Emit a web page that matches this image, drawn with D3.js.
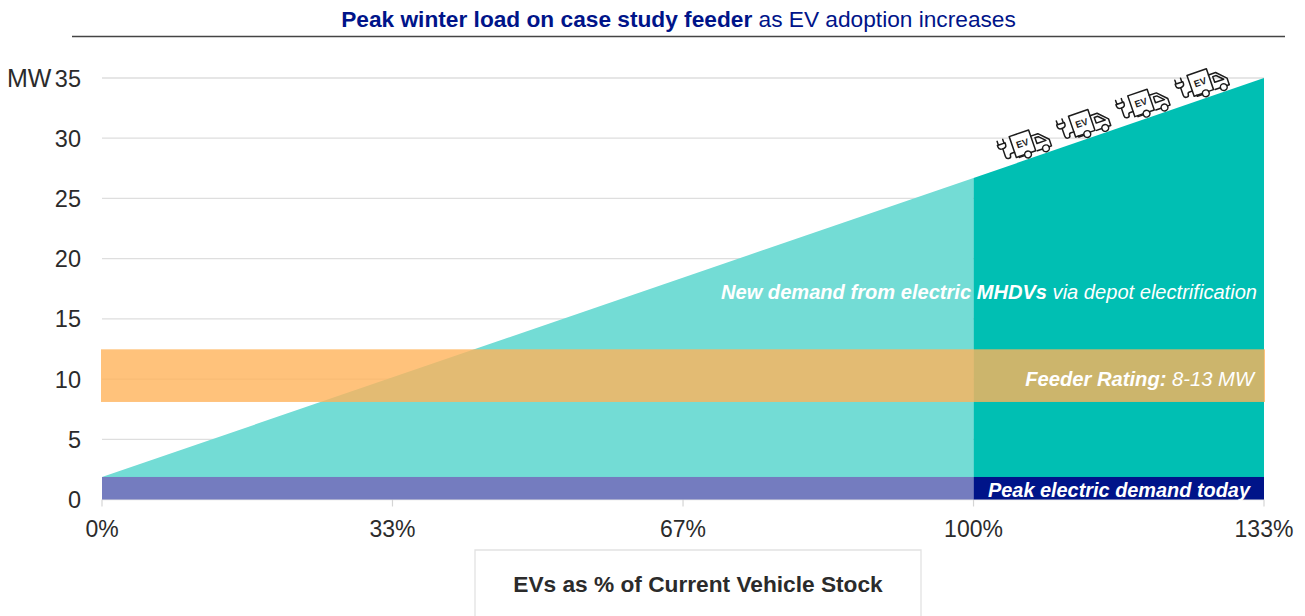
<!DOCTYPE html>
<html>
<head>
<meta charset="utf-8">
<script src="https://cdn.jsdelivr.net/npm/d3@7"></script>
<style>
html,body{margin:0;padding:0;background:#fff;overflow:hidden}
text{font-family:"Liberation Sans",Arial,sans-serif}
</style>
</head>
<body>
<svg id="c" width="1305" height="616"></svg>
<script>
const yTicks = [0,5,10,15,20,25,30,35];
const xTicks = [0,33.33,66.67,100,133.33];
const xTickLabels = ["0%","33%","67%","100%","133%"];
const demandX = [0,100,133.33];
const demandY = [1.87,26.7,35];
const peakToday = 1.87;
const feederLow = 8.1;
const feederHigh = 12.47;
const truckX = [106.3,113.1,119.9,126.7];
const truckLift = [1.05,1.05,1.05,1.05];

const svg = d3.select("#c");
const x = d3.scaleLinear().domain([0,133.33]).range([102,1264]);
const y = d3.scaleLinear().domain([0,35]).range([499.5,78]);
const TEAL="#00BFB3", TEAL_LIGHT="#73DCD5", NAVY="#001489", NAVY_LIGHT="#747CBF", ORANGE="#FFB35A";
const INK="#2b2b2b";

// title
const title = svg.append("text").attr("x",678.5).attr("y",27).attr("text-anchor","middle")
  .attr("font-size",22.7).attr("fill",NAVY);
title.append("tspan").attr("font-weight",700).text("Peak winter load on case study feeder");
title.append("tspan").text(" as EV adoption increases");
svg.append("line").attr("x1",72).attr("x2",1285).attr("y1",36.5).attr("y2",36.5)
  .attr("stroke","#444").attr("stroke-width",1.6);

// grid
svg.append("g").selectAll("line").data(yTicks).join("line")
  .attr("x1",x(0)).attr("x2",x(133.33)).attr("y1",d=>y(d)).attr("y2",d=>y(d))
  .attr("stroke","#dedede").attr("stroke-width",1.3);

// y labels
svg.append("g").selectAll("text").data(yTicks).join("text")
  .attr("x",81).attr("y",d=>y(d)+8.5).attr("text-anchor","end")
  .attr("font-size",23.5).attr("fill",INK).text(d=>d);
svg.append("text").attr("x",7).attr("y",87).attr("font-size",25).attr("fill",INK).text("MW");

// x ticks + labels
svg.append("g").selectAll("line").data(xTicks).join("line")
  .attr("x1",d=>x(d)).attr("x2",d=>x(d)).attr("y1",y(0)).attr("y2",y(0)+7)
  .attr("stroke","#d5d5d5").attr("stroke-width",1.2);
svg.append("g").selectAll("text").data(xTicks).join("text")
  .attr("x",d=>x(d)).attr("y",537).attr("text-anchor","middle")
  .attr("font-size",23).attr("fill",INK).text((d,i)=>xTickLabels[i]);

// demand area
const area = d3.area().x(d=>x(d[0])).y0(y(peakToday)).y1(d=>y(d[1]));
const pts = demandX.map((d,i)=>[d,demandY[i]]);
svg.append("path").attr("d",area(pts.slice(0,2))).attr("fill",TEAL_LIGHT);
svg.append("path").attr("d",area(pts.slice(1,3))).attr("fill",TEAL);

// peak band
svg.append("rect").attr("x",x(0)).attr("width",x(100)-x(0)).attr("y",y(peakToday))
  .attr("height",y(0)-y(peakToday)).attr("fill",NAVY_LIGHT);
svg.append("rect").attr("x",x(100)).attr("width",x(133.33)-x(100)).attr("y",y(peakToday))
  .attr("height",y(0)-y(peakToday)).attr("fill",NAVY);

// feeder band
svg.append("rect").attr("x",x(0)-1).attr("width",x(133.33)-x(0)+2).attr("y",y(feederHigh))
  .attr("height",y(feederLow)-y(feederHigh)).attr("fill",ORANGE).attr("fill-opacity",.8);

// labels inside
function label(xp,yp,size,bold,rest){
  const t = svg.append("text").attr("x",xp).attr("y",yp).attr("text-anchor","end")
    .attr("font-size",size).attr("font-style","italic").attr("fill","#fff");
  t.append("tspan").attr("font-weight",700).text(bold);
  t.append("tspan").text(rest);
}
label(1257,299,20.1,"New demand from electric MHDVs"," via depot electrification");
label(1254,386,20.2,"Feeder Rating:"," 8-13 MW");
label(1250,497,19.9,"Peak electric demand today","");

// trucks
const angle = Math.atan((y(demandY[1])-y(demandY[2]))/(x(100)-x(demandX[2]))) *180/Math.PI;
const truckG = svg.append("g").selectAll("g").data(truckX).join("g")
  .attr("transform",(d,i)=>{
    const v = d3.scaleLinear().domain(demandX.slice(1)).range(demandY.slice(1))(d);
    return `translate(${x(d)},${y(v+truckLift[i])}) rotate(${angle})`;
  })
  .attr("fill","none").attr("stroke","#1c1c1c").attr("stroke-width",1.5)
  .attr("stroke-linejoin","round").attr("stroke-linecap","round");
// load box
truckG.append("path").attr("d","M-15,-15.5 H5.5 V6.5 H-15 Z").attr("fill","#fff");
// cab
truckG.append("path").attr("d","M5.5,-9 H13 L22,0 V7 H19.5 M7,7 H12.5 M-12,6.5 V7.5 H-6.5 M9,-6 V0 H18.5 L12.5,-6 Z");
// wheels
truckG.append("circle").attr("cx",-3).attr("cy",7.5).attr("r",3.4).attr("fill","#fff");
truckG.append("circle").attr("cx",16).attr("cy",7.5).attr("r",3.4).attr("fill","#fff");
// cable and plug
truckG.append("path").attr("d","M-15,1 H-18 Q-20,1 -20,3 Q-20,5 -22,5 Q-25,5 -25,2 V-6");
truckG.append("path").attr("d","M-29,-11 H-21 V-9 Q-21,-6 -25,-6 Q-29,-6 -29,-9 Z M-28,-11 V-15 M-22,-11 V-15");
truckG.append("text").attr("x",-4.7).attr("y",-1.5).attr("text-anchor","middle")
  .attr("font-size",9.5).attr("font-weight",700).attr("fill","#1c1c1c").attr("stroke","none").text("EV");

// axis title box
svg.append("path").attr("d","M475,616 V550 H921 V616").attr("fill","#fff")
  .attr("stroke","#e2e2e2").attr("stroke-width",1.3);
svg.append("text").attr("x",698).attr("y",592).attr("text-anchor","middle")
  .attr("font-size",22.7).attr("font-weight",700).attr("fill",INK).text("EVs as % of Current Vehicle Stock");
</script>
</body>
</html>
